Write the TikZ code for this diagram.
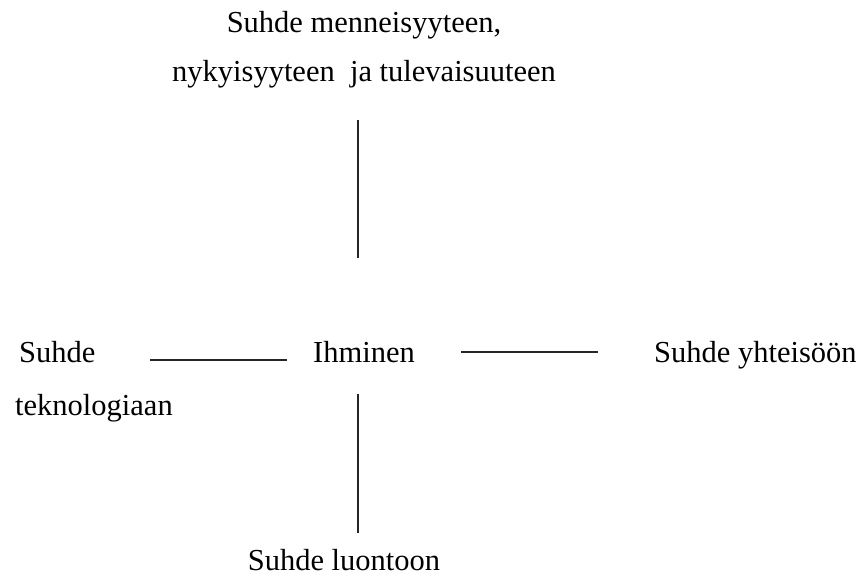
\documentclass[tikz,border=0pt]{standalone}
\usepackage{fontspec}
\setmainfont{Liberation Serif}
\begin{document}
\begin{tikzpicture}[x=1pt,y=-1pt,
  lbl/.style={inner sep=0pt,font=\fontsize{30.5}{36}\selectfont},
  link/.style={line width=1.4pt,draw=black!85}]
\useasboundingbox (0,0) rectangle (858,575);
\node[lbl,anchor=base] (top1) at (364,33) {Suhde menneisyyteen,};
\node[lbl,anchor=base] (top2) at (364,82) {nykyisyyteen\ \ ja tulevaisuuteen};
\node[lbl,anchor=base] (ih) at (364,362) {Ihminen};
\node[lbl,anchor=base west] (tek1) at (19,362) {Suhde};
\node[lbl,anchor=base west] (tek2) at (15,415) {teknologiaan};
\node[lbl,anchor=base west] (yht) at (654,362) {Suhde yhteisöön};
\node[lbl,anchor=base] (luo) at (344,570) {Suhde luontoon};
\coordinate (a1) at (358,120); \coordinate (a2) at (358,258);
\coordinate (b1) at (150,360); \coordinate (b2) at (287,360);
\coordinate (c1) at (461,352); \coordinate (c2) at (598,352);
\coordinate (d1) at (358,394); \coordinate (d2) at (358,533);
\draw[link] (a1) -- (a2);
\draw[link] (b1) -- (b2);
\draw[link] (c1) -- (c2);
\draw[link] (d1) -- (d2);
\end{tikzpicture}
\end{document}
